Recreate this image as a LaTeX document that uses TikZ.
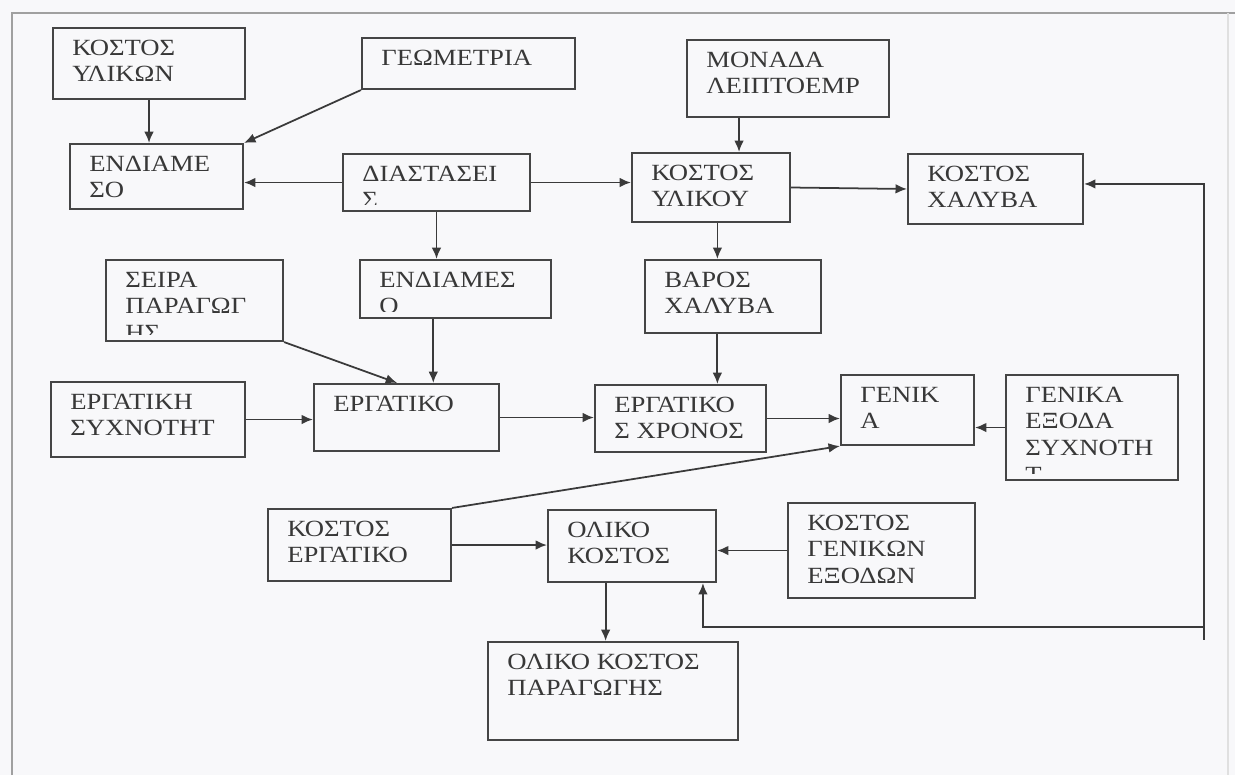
\documentclass[tikz,border=0pt]{standalone}
\usepackage{fontspec}
\setmainfont[FakeStretch=1.15]{Liberation Serif}
\usetikzlibrary{fit,calc,arrows.meta}
\definecolor{boxc}{HTML}{454545}
\definecolor{linec}{HTML}{3A3A3A}
\definecolor{txtc}{HTML}{383838}
\definecolor{framec}{HTML}{A0A0A0}
\definecolor{bgc}{HTML}{F8F8FA}
\newcommand\tbox[6]{%
  \node[box, fit={(#2,#3) (#4,#5)}] (#1) {};
  \begin{scope}
    \clip (#2,#3) rectangle (#4,#5-7);
    \node[txt] (#1-t) at (#2+19,#3+27) {\vtop{#6}};
  \end{scope}}
\begin{document}
\begin{tikzpicture}[x=0.02cm,y=-0.02cm,
  box/.style={draw=boxc, line width=1.2pt, inner sep=0pt, rectangle},
  txt/.style={anchor=base west, inner sep=0pt, text=txtc, draw=none,
    font=\fontsize{13.2pt}{15.3pt}\selectfont},
  tip/.tip={Latex[length=6.5pt,width=5.5pt]},
  arr/.style={draw=linec, line width=1pt, -tip},
  fb/.style={draw=linec, line width=1pt, tip-tip}]
\fill[bgc] (0,0) rectangle (1235,775);
\useasboundingbox (0,0) rectangle (1235,775);
\draw[framec, line width=1.2pt] (12,775) -- (12,13) -- (1235,13);
\draw[black!12, line width=0.8pt] (1228,13) -- (1228,775);

\tbox{ky}{53}{28}{245}{99}{\hbox{ΚΟΣΤΟΣ}\hbox{ΥΛΙΚΩΝ}}
\tbox{geo}{362}{38}{575}{89}{\hbox{ΓΕΩΜΕΤΡΙΑ}}
\tbox{end1}{70}{144}{243}{209}{\hbox{ΕΝΔΙΑΜΕ}\hbox{ΣΟ}}
\tbox{dia}{343}{154}{530}{211}{\hbox{ΔΙΑΣΤΑΣΕΙ}\hbox{Σ}}
\tbox{mon}{687}{40}{889}{117}{\hbox{ΜΟΝΑΔΑ}\hbox{ΛΕΙΠΤΟΕΜΡ}}
\tbox{kyl}{632}{153}{790}{222}{\hbox{ΚΟΣΤΟΣ}\hbox{ΥΛΙΚΟΥ}}
\tbox{kxa}{908}{154}{1083}{224}{\hbox{ΚΟΣΤΟΣ}\hbox{ΧΑΛΥΒΑ}}
\tbox{seira}{106}{260}{283}{341}{\hbox{ΣΕΙΡΑ}\hbox{ΠΑΡΑΓΩΓ}\hbox{ΗΣ}}
\tbox{end2}{360}{260}{551}{318}{\hbox{ΕΝΔΙΑΜΕΣ}\hbox{Ο}}
\tbox{bar}{645}{260}{821}{333}{\hbox{ΒΑΡΟΣ}\hbox{ΧΑΛΥΒΑ}}
\tbox{erg}{51}{382}{245}{457}{\hbox{ΕΡΓΑΤΙΚΗ}\hbox{ΣΥΧΝΟΤΗΤ}}
\tbox{ergk}{314}{384}{499}{451}{\hbox{ΕΡΓΑΤΙΚΟ}}
\tbox{ergx}{595}{385}{766}{452}{\hbox{ΕΡΓΑΤΙΚΟ}\hbox{Σ ΧΡΟΝΟΣ}}
\tbox{gen}{841}{375}{974}{445}{\hbox{ΓΕΝΙΚ}\hbox{Α}}
\tbox{gex}{1006}{375}{1178}{480}{\hbox{ΓΕΝΙΚΑ}\hbox{ΕΞΟΔΑ}\hbox{ΣΥΧΝΟΤΗ}\hbox{Τ}}
\tbox{ker}{268}{509}{451}{581}{\hbox{ΚΟΣΤΟΣ}\hbox{ΕΡΓΑΤΙΚΟ}}
\tbox{olk}{548}{510}{716}{582}{\hbox{ΟΛΙΚΟ}\hbox{ΚΟΣΤΟΣ}}
\tbox{kgen}{788}{503}{975}{598}{\hbox{ΚΟΣΤΟΣ}\hbox{ΓΕΝΙΚΩΝ}\hbox{ΕΞΟΔΩΝ}}
\tbox{olp}{488}{642}{738}{740}{\hbox{ΟΛΙΚΟ ΚΟΣΤΟΣ}\hbox{ΠΑΡΑΓΩΓΗΣ}}

\coordinate (m1) at ($(mon.south west)!0.26!(mon.south east)$);
\coordinate (k1) at ($(kyl.south west)!0.54!(kyl.south east)$);
\coordinate (s1) at ($(ergk.north west)!0.45!(ergk.north east)$);
\coordinate (e2) at ($(ergk.north west)!0.643!(ergk.north east)$);
\coordinate (b1) at ($(ergx.north west)!0.713!(ergx.north east)$);
\coordinate (o1) at ($(olk.south west)!0.345!(olk.south east)$);
\coordinate (fa) at ($(kxa.north east)!0.43!(kxa.south east)$);
\coordinate (fb) at ($(olk.south west)!0.917!(olk.south east)$);
\coordinate (fc) at (1204,627);

\draw[arr] (ky.south) -- (ky.south |- end1.north);
\draw[arr] (geo.south west) -- (end1.north east);
\draw[arr] (dia.west) -- (dia.west -| end1.east);
\draw[arr] (dia.east) -- (dia.east -| kyl.west);
\draw[arr] (dia.south) -- (dia.south |- end2.north);
\draw[arr] (m1) -- (m1 |- kyl.north);
\draw[arr] (kyl.east) -- (kxa.west);
\draw[arr] (k1) -- (k1 |- bar.north);
\draw[arr] (seira.south east) -- (s1);
\draw[arr] (end2.south -| e2) -- (e2);
\draw[arr] (erg.east) -- (erg.east -| ergk.west);
\draw[arr] (ergk.east) -- (ergk.east -| ergx.west);
\draw[arr] (bar.south -| b1) -- (b1);
\draw[arr] (ergx.east) -- (ergx.east -| gen.west);
\draw[arr] (gex.west) -- (gex.west -| gen.east);
\draw[arr] (ker.north east) -- (gen.south west);
\draw[arr] (ker.east) -- (ker.east -| olk.west);
\draw[arr] (kgen.west) -- (kgen.west -| olk.east);
\draw[arr] (o1) -- (o1 |- olp.north);
\draw[fb] (fa) -| (fc) -| (fb);
\draw[draw=linec, line width=1pt] (fc) -- ++(0,13);
\end{tikzpicture}
\end{document}
